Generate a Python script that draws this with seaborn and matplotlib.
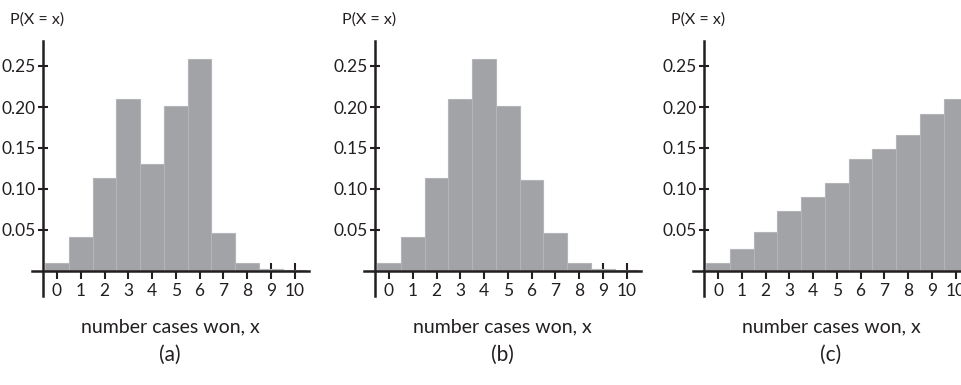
import matplotlib
matplotlib.use("Agg")
import matplotlib.pyplot as plt
import seaborn as sns

sns.set_style("white")
plt.rcParams["font.family"] = ["Lato", "DejaVu Sans"]

# data
cases = list(range(11))
probs_a = [0.010, 0.042, 0.113, 0.210, 0.131, 0.201, 0.259, 0.046, 0.010, 0.003, 0.001]
probs_b = [0.010, 0.042, 0.113, 0.210, 0.258, 0.201, 0.111, 0.046, 0.010, 0.003, 0.001]
probs_c = [0.010, 0.027, 0.048, 0.073, 0.090, 0.107, 0.137, 0.149, 0.166, 0.191, 0.210]
panels = ["(a)", "(b)", "(c)"]
yticks = [0.05, 0.10, 0.15, 0.20, 0.25]
ytick_labels = ["0.05", "0.10", "0.15", "0.20", "0.25"]

W, H = 961, 385
fig = plt.figure(figsize=(W / 100, H / 100), dpi=100)

px_unit = 23.75      # pixels per case
py_unit = 820.0      # pixels per 1.0 probability
zero_x = [57, 389, 718]
zero_y = 271
xlim = (-1.5, 11.0)
ylim = (-0.035, 0.285)

for i, (probs, tag) in enumerate(zip([probs_a, probs_b, probs_c], panels)):
    left = zero_x[i] + xlim[0] * px_unit
    width = (xlim[1] - xlim[0]) * px_unit
    bottom_px = zero_y - ylim[0] * py_unit
    height = (ylim[1] - ylim[0]) * py_unit
    ax = fig.add_axes([left / W, 1 - bottom_px / H, width / W, height / H])
    ax.patch.set_alpha(0)

    sns.barplot(x=cases, y=probs, ax=ax, native_scale=True, width=1.0,
                color="#a2a3a7", saturation=1, edgecolor="#b4b5b8", linewidth=0.8)

    ax.set_xlim(*xlim)
    ax.set_ylim(*ylim)

    for s in ["top", "right"]:
        ax.spines[s].set_visible(False)
    ax.spines["left"].set_position(("data", -0.58))
    ax.spines["bottom"].set_position(("data", 0))
    ax.spines["left"].set_bounds(-0.03, 0.28)
    ax.spines["bottom"].set_bounds(-1.05, 10.6)
    for s in ["left", "bottom"]:
        ax.spines[s].set_color("#231f20")
        ax.spines[s].set_linewidth(1.8)
        ax.spines[s].set_zorder(5)

    ax.set_xticks(cases)
    ax.set_xticklabels([str(c) for c in cases])
    ax.set_yticks(yticks)
    ax.set_yticklabels(ytick_labels)
    ax.tick_params(axis="x", bottom=True, direction="inout", length=11, width=1.5,
                   color="#231f20", labelsize=12.5, pad=3, labelcolor="#231f20")
    ax.tick_params(axis="y", left=True, direction="inout", length=7, width=1.5,
                   color="#231f20", labelsize=12.5, pad=2, labelcolor="#231f20")
    ax.set_xlabel("")
    ax.set_ylabel("")

    # titles and labels in pixel positions
    fx = zero_x[i]
    fig.text((fx - 47) / W, 1 - 20 / H, "P(X = x)", fontsize=11.5,
             ha="left", va="center", color="#231f20")
    fig.text((fx + 113) / W, 1 - 327 / H, "number cases won, x", fontsize=14,
             ha="center", va="center", color="#231f20")
    fig.text((fx + 113) / W, 1 - 355 / H, tag, fontsize=15,
             ha="center", va="center", color="#231f20")

fig.savefig("out.png", dpi=100)
